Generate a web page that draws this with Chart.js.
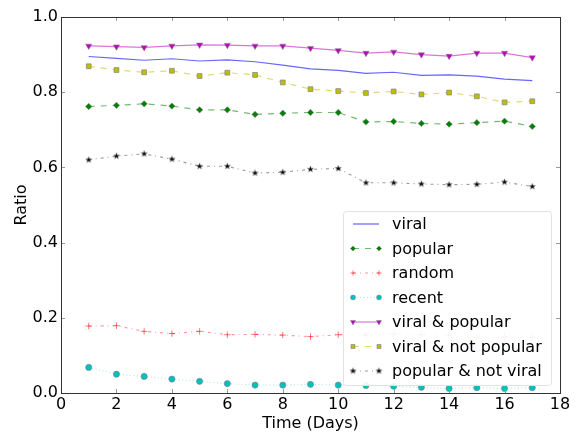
<!DOCTYPE html>
<html>
<head>
<meta charset="utf-8">
<script src="https://cdn.jsdelivr.net/npm/chart.js@4"></script>
<style>
html,body{margin:0;padding:0;background:#fff;}
#wrap{width:578px;height:433px;position:relative;}
</style>
</head>
<body>
<div id="wrap"><canvas id="c" width="578" height="433"></canvas></div>
<script>
const days = [1,2,3,4,5,6,7,8,9,10,11,12,13,14,15,16,17];
const viral = [0.895,0.890,0.885,0.889,0.883,0.886,0.881,0.872,0.862,0.858,0.850,0.853,0.845,0.846,0.843,0.835,0.831];
const popular = [0.762,0.765,0.769,0.763,0.753,0.753,0.741,0.744,0.746,0.746,0.721,0.722,0.717,0.715,0.719,0.723,0.709];
const random = [0.178,0.179,0.164,0.158,0.164,0.155,0.156,0.154,0.150,0.155,0.154,0.157,0.155,0.154,0.148,0.150,0.148];
const recent = [0.068,0.050,0.044,0.037,0.031,0.025,0.021,0.021,0.023,0.021,0.020,0.018,0.015,0.012,0.014,0.012,0.014];
const viralPopular = [0.923,0.921,0.919,0.923,0.926,0.925,0.923,0.923,0.917,0.911,0.904,0.907,0.900,0.896,0.904,0.904,0.892];
const viralNotPopular = [0.869,0.859,0.853,0.857,0.843,0.852,0.846,0.826,0.808,0.803,0.798,0.802,0.794,0.799,0.789,0.773,0.776];
const popularNotViral = [0.620,0.630,0.636,0.622,0.603,0.603,0.585,0.587,0.595,0.597,0.559,0.559,0.556,0.554,0.555,0.561,0.549];
const seriesNames = ['viral','popular','random','recent','viral & popular','viral & not popular','popular & not viral'];
const xTicks = [0,2,4,6,8,10,12,14,16,18];
const yTicks = [0.0,0.2,0.4,0.6,0.8,1.0];

const FONT = "'DejaVu Sans', sans-serif";

function starCanvas(r, fill, edge){
  const s = Math.ceil(r*2+4);
  const cv = document.createElement('canvas');
  cv.width = s; cv.height = s;
  const g = cv.getContext('2d');
  const cx = s/2, cy = s/2;
  g.beginPath();
  for(let i=0;i<10;i++){
    const rr = i%2===0 ? r : r*0.42;
    const a = -Math.PI/2 + i*Math.PI/5;
    const px = cx + rr*Math.cos(a), py = cy + rr*Math.sin(a);
    if(i===0) g.moveTo(px,py); else g.lineTo(px,py);
  }
  g.closePath();
  g.fillStyle = fill; g.fill();
  g.strokeStyle = edge; g.lineWidth = 0.6; g.stroke();
  return cv;
}
const star = starCanvas(3.2, '#000000', 'rgba(120,120,120,0.8)');

const pts = arr => arr.map((v,i)=>({x:days[i], y:v}));
const edge = 'rgba(130,130,130,0.7)';

const datasets = [
  {label:seriesNames[0], data:pts(viral), borderColor:'rgba(0,0,255,0.6)', borderWidth:1.2, borderDash:[], pointRadius:0, pointStyle:false},
  {label:seriesNames[1], data:pts(popular), borderColor:'rgba(0,128,0,0.55)', borderWidth:1.2, borderDash:[6,6], pointStyle:'rectRot', pointRadius:3.2, pointBackgroundColor:'#008000', pointBorderColor:edge, pointBorderWidth:0.8},
  {label:seriesNames[2], data:pts(random), borderColor:'rgba(255,0,0,0.4)', borderWidth:1.1, borderDash:[3,4,1,4], pointStyle:'cross', pointRadius:3.2, pointBackgroundColor:'rgba(255,0,0,0.55)', pointBorderColor:'rgba(255,0,0,0.55)', pointBorderWidth:1},
  {label:seriesNames[3], data:pts(recent), borderColor:'rgba(0,191,191,0.35)', borderWidth:1.1, borderDash:[1,2.5], pointStyle:'circle', pointRadius:3.1, pointBackgroundColor:'#00bfbf', pointBorderColor:edge, pointBorderWidth:0.8},
  {label:seriesNames[4], data:pts(viralPopular), borderColor:'rgba(191,0,191,0.55)', borderWidth:1.2, borderDash:[], pointStyle:'triangle', pointRotation:180, pointRadius:3.6, pointBackgroundColor:'#bf00bf', pointBorderColor:edge, pointBorderWidth:0.8},
  {label:seriesNames[5], data:pts(viralNotPopular), borderColor:'rgba(191,191,0,0.55)', borderWidth:1.2, borderDash:[6,6], pointStyle:'rect', pointRadius:3.4, pointBackgroundColor:'#bfbf00', pointBorderColor:edge, pointBorderWidth:1},
  {label:seriesNames[6], data:pts(popularNotViral), borderColor:'rgba(0,0,0,0.4)', borderWidth:1.1, borderDash:[3,4,1,4], pointStyle:star, pointRadius:3, pointBackgroundColor:'#000', pointBorderColor:'#000', pointBorderWidth:0}
];
datasets.forEach(d=>{ d.fill=false; d.tension=0; d.showLine=true; });

const frame = {
  id:'frame',
  afterDatasetsDraw(chart){
    const {ctx, chartArea:a, scales} = chart;
    ctx.save();
    ctx.lineWidth = 1;
    ctx.beginPath();
    xTicks.forEach(t=>{
      const x = Math.round(scales.x.getPixelForValue(t))+0.5;
      ctx.moveTo(x, a.bottom); ctx.lineTo(x, a.bottom-4);
      ctx.moveTo(x, a.top); ctx.lineTo(x, a.top+4);
    });
    yTicks.forEach(t=>{
      const y = Math.round(scales.y.getPixelForValue(t))+0.5;
      ctx.moveTo(a.left, y); ctx.lineTo(a.left+4, y);
      ctx.moveTo(a.right, y); ctx.lineTo(a.right-4, y);
    });
    ctx.strokeStyle = '#999';
    ctx.stroke();
    ctx.strokeStyle = '#333';
    ctx.strokeRect(Math.round(a.left)+0.5, Math.round(a.top)+0.5, Math.round(a.right-a.left), Math.round(a.bottom-a.top));
    ctx.restore();
  },
  afterDraw(chart){
    const ctx = chart.ctx;
    const bx = 343.5, by = 211.5, bw = 208, bh = 174;
    ctx.save();
    ctx.fillStyle = 'rgba(255,255,255,0.9)';
    ctx.strokeStyle = '#e2e2e2';
    ctx.lineWidth = 1;
    ctx.beginPath();
    if (ctx.roundRect) ctx.roundRect(bx,by,bw,bh,3); else ctx.rect(bx,by,bw,bh);
    ctx.fill(); ctx.stroke();
    const rowH = 24.5, y0 = 224;
    ctx.font = '16px ' + FONT;
    ctx.textBaseline = 'middle';
    chart.data.datasets.forEach((d,i)=>{
      const y = y0 + i*rowH;
      const x1 = 353, x2 = 379;
      ctx.save();
      ctx.strokeStyle = d.borderColor;
      ctx.lineWidth = d.borderWidth;
      ctx.setLineDash(d.borderDash||[]);
      ctx.beginPath(); ctx.moveTo(x1,y); ctx.lineTo(x2,y); ctx.stroke();
      ctx.restore();
      if (d.pointStyle && Chart.helpers && Chart.helpers.drawPoint){
        [x1,x2].forEach(px=>{
          ctx.save();
          ctx.fillStyle = d.pointBackgroundColor;
          ctx.strokeStyle = d.pointBorderColor;
          ctx.lineWidth = d.pointBorderWidth;
          Chart.helpers.drawPoint(ctx, {pointStyle:d.pointStyle, rotation:d.pointRotation||0, radius:(d.pointRadius||3)*0.8, borderWidth:d.pointBorderWidth}, px, y);
          ctx.restore();
        });
      }
      ctx.fillStyle = '#000';
      ctx.fillText(d.label, 392, y+1);
    });
    ctx.restore();
  }
};

new Chart(document.getElementById('c'), {
  type:'line',
  data:{datasets},
  options:{
    responsive:false,
    animation:false,
    devicePixelRatio:1,
    layout:{padding:{top:17,right:18,left:0,bottom:0}},
    plugins:{legend:{display:false}, tooltip:{enabled:false}},
    scales:{
      x:{
        type:'linear', min:0, max:18,
        afterBuildTicks: s => { s.ticks = xTicks.map(v=>({value:v})); },
        afterFit: s => { s.height = 40; },
        grid:{display:false, drawTicks:false},
        border:{display:false},
        ticks:{color:'#000', font:{family:FONT, size:16}, padding:2, maxRotation:0, autoSkip:false},
        title:{display:true, text:'Time (Days)', color:'#000', font:{family:FONT, size:16}, padding:{top:0,bottom:0}}
      },
      y:{
        type:'linear', min:0, max:1,
        afterBuildTicks: s => { s.ticks = yTicks.map(v=>({value:v})); },
        afterFit: s => { s.width = 61; },
        grid:{display:false, drawTicks:false},
        border:{display:false},
        ticks:{color:'#000', font:{family:FONT, size:16}, padding:3, autoSkip:false, callback:v=>Number(v).toFixed(1)},
        title:{display:true, text:'Ratio', color:'#000', font:{family:FONT, size:16}, padding:{top:12,bottom:0}}
      }
    }
  },
  plugins:[frame]
});
</script>
</body>
</html>
